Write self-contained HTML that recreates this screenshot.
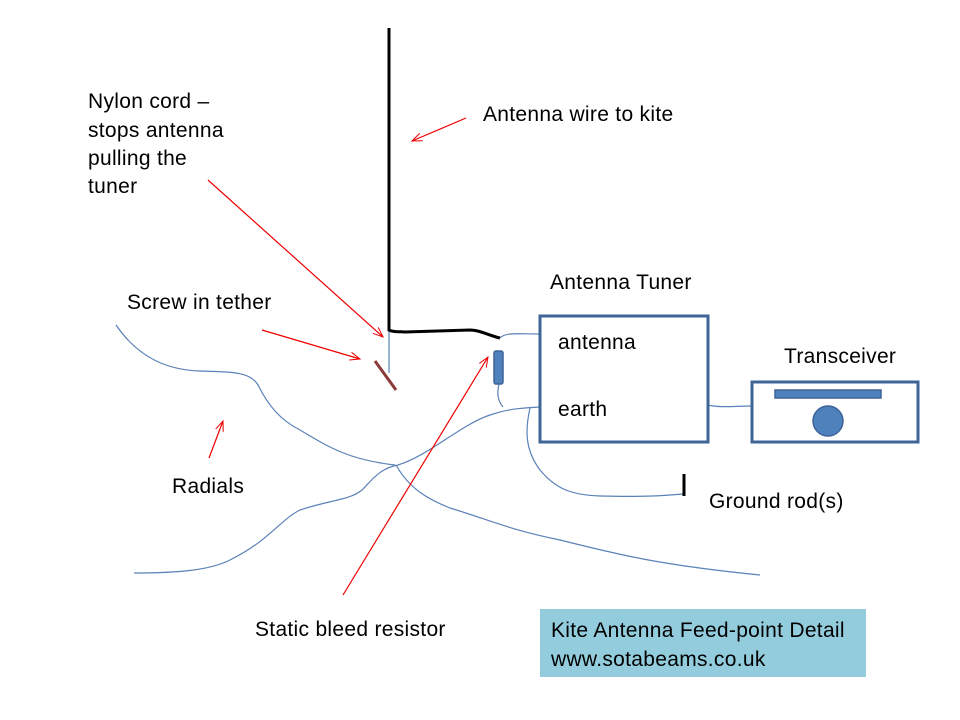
<!DOCTYPE html>
<html><head><meta charset="utf-8"><style>
html,body{margin:0;padding:0;background:#fff;}
svg{display:block;}
text{font-family:"Liberation Sans",sans-serif;font-size:21px;letter-spacing:0.3px;fill:#000;}
</style></head><body>
<svg width="960" height="720" viewBox="0 0 960 720" xmlns="http://www.w3.org/2000/svg">
<defs>
<marker id="ah" markerWidth="12" markerHeight="10" refX="11" refY="5" orient="auto" markerUnits="userSpaceOnUse">
<path d="M1,1 L11,5 L1,9" fill="none" stroke="#e00" stroke-width="1"/>
</marker>
</defs>
<g fill="none" stroke="#5b82b8" stroke-width="1.2">
<path d="M116,325 C140,360 170,370 200,371 C235,372 250,372 258,385 C268,405 280,420 300,430 C330,448 350,460 395,465"/>
<path d="M134,573 C180,573 210,570 230,560 C270,540 280,520 300,510 C330,500 350,500 362,490 C372,480 380,468 398,465 C430,455 460,425 490,415 C510,408 525,408 540,407"/>
<path d="M396,465 C410,490 430,500 450,508 C490,520 510,530 560,540 C620,555 660,565 760,575"/>
<path d="M530,408 C525,430 525,450 540,470 C555,488 570,495 600,496 C640,497 660,496 683,494"/>
<path d="M499,384 C497,392 497,400 503,407"/>
<path d="M500,338 C505,332 520,334 540,334"/>
<path d="M708,405 C720,408 735,406 752,406"/>
<path d="M389,330 L389,373"/>
</g>
<path d="M389,28 L389,330 C395,333 400,331 405,332 L470,330 C480,330 490,336 500,338" fill="none" stroke="#000" stroke-width="3"/>
<line x1="375" y1="361" x2="396" y2="390" stroke="#8b3a3a" stroke-width="3"/>
<rect x="494" y="351" width="9" height="33" rx="2" fill="#4f81bd" stroke="#3f6497" stroke-width="1.5"/>
<rect x="540" y="316" width="168" height="126" fill="#fff" stroke="#3f6497" stroke-width="3"/>
<rect x="752" y="382" width="166" height="60" fill="#fff" stroke="#3f6497" stroke-width="3"/>
<rect x="775" y="390" width="106" height="8" fill="#4f81bd" stroke="#3f6497" stroke-width="1.5"/>
<circle cx="828" cy="421" r="15" fill="#4f81bd" stroke="#3f6497" stroke-width="1.5"/>
<line x1="684" y1="474" x2="684" y2="496" stroke="#000" stroke-width="3"/>
<g stroke="#e00" stroke-width="1.2" fill="none" marker-end="url(#ah)">
<line x1="208" y1="180" x2="383" y2="337"/>
<line x1="262" y1="330" x2="360" y2="359"/>
<line x1="466" y1="118" x2="412" y2="141"/>
<line x1="209" y1="458" x2="223" y2="421"/>
<line x1="343" y1="595" x2="488" y2="357"/>
</g>
<rect x="540" y="609" width="326" height="68" fill="#93cddd"/>
<text x="88" y="108">Nylon cord –</text>
<text x="88" y="137">stops antenna</text>
<text x="88" y="165">pulling the</text>
<text x="88" y="193">tuner</text>
<text x="483" y="121">Antenna wire to kite</text>
<text x="127" y="309">Screw in tether</text>
<text x="550" y="289">Antenna Tuner</text>
<text x="558" y="349">antenna</text>
<text x="558" y="416">earth</text>
<text x="784" y="363">Transceiver</text>
<text x="172" y="493">Radials</text>
<text x="709" y="508">Ground rod(s)</text>
<text x="255" y="636">Static bleed resistor</text>
<text x="551" y="637">Kite Antenna Feed-point Detail</text>
<text x="551" y="666">www.sotabeams.co.uk</text>
</svg>
</body></html>
